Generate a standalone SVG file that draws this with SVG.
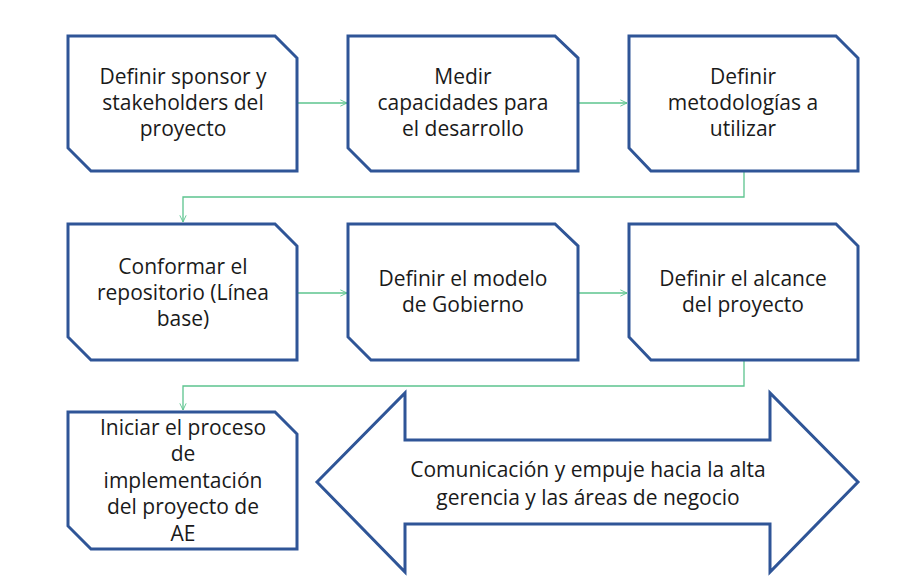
<svg xmlns="http://www.w3.org/2000/svg" width="920" height="579" viewBox="0 0 920 579">
<style>
.node{fill:#fff;stroke:#2f5597;stroke-width:3;stroke-linejoin:miter}
.lbl{font-family:"Open Sans","Liberation Sans",sans-serif;font-size:21px;fill:#1a1a1a;text-anchor:middle}
.con{fill:none;stroke:#5cc48e;stroke-width:1.3;marker-end:url(#ah)}
</style>
<defs>
<marker id="ah" viewBox="0 0 10 10" refX="9.5" refY="5" markerWidth="7" markerHeight="10" markerUnits="userSpaceOnUse" orient="auto">
<path d="M0,0.5 L9.5,5 L0,9.5" fill="none" stroke="#5cc48e" stroke-width="1.3"/>
</marker>
</defs>
<rect width="920" height="579" fill="#fff"/>
<g id="connectors">
<path class="con" d="M298,103 H347"/>
<path class="con" d="M578,103 H627"/>
<path class="con" d="M744,172 V197 H183 V222"/>
<path class="con" d="M298,293 H347"/>
<path class="con" d="M578,293 H627"/>
<path class="con" d="M744,360 V386 H183 V410"/>
</g>
<g id="n1">
<path class="node" d="M68,36 H275 L297,58 V171 H91 L68,148 Z"/>
<text class="lbl" x="183" y="84">Definir sponsor y</text>
<text class="lbl" x="183" y="110">stakeholders del</text>
<text class="lbl" x="183" y="136">proyecto</text>
</g>
<g id="n2">
<path class="node" d="M348,36 H555 L578,58 V171 H371 L348,148 Z"/>
<text class="lbl" x="463" y="84">Medir</text>
<text class="lbl" x="463" y="110">capacidades para</text>
<text class="lbl" x="463" y="136">el desarrollo</text>
</g>
<g id="n3">
<path class="node" d="M629,36 H836 L858,58 V171 H651 L629,148 Z"/>
<text class="lbl" x="743" y="84">Definir</text>
<text class="lbl" x="743" y="110">metodologías a</text>
<text class="lbl" x="743" y="136">utilizar</text>
</g>
<g id="n4">
<path class="node" d="M68,224 H275 L297,246 V360 H91 L68,337 Z"/>
<text class="lbl" x="183" y="274">Conformar el</text>
<text class="lbl" x="183" y="300">repositorio (Línea</text>
<text class="lbl" x="183" y="326">base)</text>
</g>
<g id="n5">
<path class="node" d="M348,224 H555 L578,246 V360 H371 L348,337 Z"/>
<text class="lbl" x="463" y="286">Definir el modelo</text>
<text class="lbl" x="463" y="312">de Gobierno</text>
</g>
<g id="n6">
<path class="node" d="M629,224 H836 L858,246 V360 H651 L629,337 Z"/>
<text class="lbl" x="743" y="286">Definir el alcance</text>
<text class="lbl" x="743" y="312">del proyecto</text>
</g>
<g id="n7">
<path class="node" d="M68,412 H275 L297,434 V549 H91 L68,526 Z"/>
<text class="lbl" x="183" y="435">Iniciar el proceso</text>
<text class="lbl" x="183" y="461">de</text>
<text class="lbl" x="183" y="488">implementación</text>
<text class="lbl" x="183" y="514">del proyecto de</text>
<text class="lbl" x="183" y="541">AE</text>
</g>
<g id="n8">
<path class="node" d="M317,482 L405,393 V440 H770 V393 L858,482 L770,572 V524 H405 V572 Z"/>
<text class="lbl" x="588" y="477">Comunicación y empuje hacia la alta</text>
<text class="lbl" x="588" y="505">gerencia y las áreas de negocio</text>
</g>
</svg>
